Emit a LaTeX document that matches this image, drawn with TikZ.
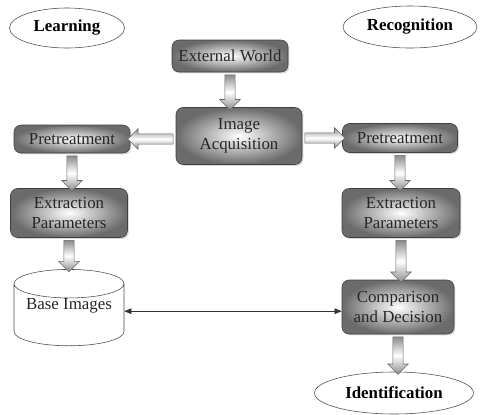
\documentclass[tikz,border=0pt]{standalone}
\usepackage{fontspec}
\setmainfont{Liberation Serif}
\usetikzlibrary{shapes.geometric,shapes.arrows,shadows,calc,arrows.meta}

\tikzset{
  box/.style={draw=black!75, rounded corners=5pt, inner color=white, outer color=black!58,
    text=black!85, align=center, font=\fontsize{12}{14}\selectfont,
    drop shadow={shadow xshift=1pt, shadow yshift=-1pt, opacity=0.3}},
  tag/.style={ellipse, draw=black!70, fill=white, inner sep=0pt,
    font=\bfseries\fontsize{12}{14}\selectfont},
  sarr/.style={single arrow, draw=black!60, top color=black!45, bottom color=black!45,
    middle color=white, inner xsep=0pt, inner ysep=0.12cm, minimum width=0.5cm,
    single arrow head extend=0.13cm, sloped, allow upside down},
}
\newcommand{\blockarrow}[2]{%
  \path let \p1=($(#2)-(#1)$), \n1={veclen(\x1,\y1)} in
    (#1) -- node[sarr, minimum height=\n1] {} (#2);}

\begin{document}
\begin{tikzpicture}
\useasboundingbox (0,0) rectangle (12,-10.35);

\node[tag, minimum width=2.875cm, minimum height=1cm] (learn) at (1.675,-0.7) {Learning};
\node[tag, minimum width=3.35cm, minimum height=1.05cm] (recog) at (10.25,-0.675) {Recognition};

\node[box, minimum width=2.9cm, minimum height=0.8cm] (world) at (5.75,-1.4) {External World};
\node[box, minimum width=3.15cm, minimum height=1.425cm] (acq) at (5.975,-3.4) {Image\\Acquisition};

\node[box, minimum width=2.9cm, minimum height=0.7cm] (pretL) at (1.8,-3.475) {Pretreatment};
\node[box, minimum width=2.875cm, minimum height=0.725cm] (pretR) at (10,-3.45) {Pretreatment};

\node[box, minimum width=2.925cm, minimum height=1.225cm] (extrL) at (1.725,-5.325) {Extraction\\Parameters};
\node[box, minimum width=2.95cm, minimum height=1.225cm] (extrR) at (10.025,-5.325) {Extraction\\Parameters};

% database drum; the deep text box lifts the label above the middle
\node[cylinder, shape border rotate=90, aspect=0.3, draw=black!70, fill=white,
  minimum width=2.75cm, minimum height=1.775cm, anchor=shape center,
  inner ysep=0pt, text depth=0.7cm, text=black!85, font=\fontsize{12}{14}\selectfont]
  (base) at (1.725,-7.69) {Base Images};
\node[box, minimum width=2.8cm, minimum height=1.35cm] (cmp) at (9.95,-7.675) {Comparison\\and Decision};

\node[tag, minimum width=3.975cm, minimum height=1.05cm] (ident) at (9.85,-9.825) {Identification};

\blockarrow{world.south}{world.south |- acq.north}
\blockarrow{acq.west |- pretL.east}{pretL.east}
\blockarrow{acq.east |- pretR.west}{pretR.west}
\blockarrow{pretL.south}{pretL.south |- extrL.north}
\blockarrow{pretR.south}{pretR.south |- extrR.north}
\blockarrow{extrL.south}{extrL.south |- base.north}
\blockarrow{extrR.south}{extrR.south |- cmp.north}
\blockarrow{cmp.south}{cmp.south |- ident.north}

\draw[{Triangle[length=5pt,width=4pt]}-{Triangle[length=5pt,width=4pt]}, black!80]
  ([yshift=-0.09cm]base.shape center -| base.east) -- ([yshift=-0.09cm]base.shape center -| cmp.west);
\end{tikzpicture}
\end{document}
